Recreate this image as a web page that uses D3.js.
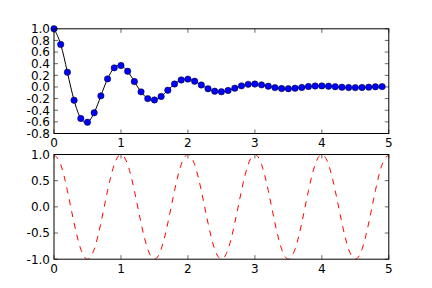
<!DOCTYPE html>
<html><head><meta charset="utf-8">
<script src="https://cdn.jsdelivr.net/npm/d3@7"></script>
<style>body{margin:0;background:#fff}svg{display:block}text{font-family:"DejaVu Sans";font-size:12px;fill:#000}</style>
</head><body><svg id="c" width="432" height="288"></svg>
<script>
// top series: sample times and damped oscillation values
const t1 = [0,0.1,0.2,0.3,0.4,0.5,0.6,0.7,0.8,0.9,1.0,1.1,1.2,1.3,1.4,1.5,1.6,1.7,1.8,1.9,2.0,2.1,2.2,2.3,2.4,2.5,2.6,2.7,2.8,2.9,3.0,3.1,3.2,3.3,3.4,3.5,3.6,3.7,3.8,3.9,4.0,4.1,4.2,4.3,4.4,4.5,4.6,4.7,4.8,4.9];
const f1 = [1.0,0.732,0.253,-0.229,-0.542,-0.607,-0.444,-0.153,0.139,0.329,0.368,0.269,0.093,-0.084,-0.200,-0.223,-0.163,-0.056,0.051,0.121,0.135,0.099,0.034,-0.031,-0.073,-0.082,-0.060,-0.021,0.019,0.045,0.050,0.036,0.013,-0.011,-0.027,-0.030,-0.022,-0.008,0.007,0.016,0.018,0.013,0.005,-0.004,-0.010,-0.011,-0.008,-0.003,0.003,0.006];
// bottom series: cosine curve samples
const t2 = [0,0.1,0.2,0.3,0.4,0.5,0.6,0.7,0.8,0.9,1.0,1.1,1.2,1.3,1.4,1.5,1.6,1.7,1.8,1.9,2.0,2.1,2.2,2.3,2.4,2.5,2.6,2.7,2.8,2.9,3.0,3.1,3.2,3.3,3.4,3.5,3.6,3.7,3.8,3.9,4.0,4.1,4.2,4.3,4.4,4.5,4.6,4.7,4.8,4.9,5.0];
const f2 = [1,0.809,0.309,-0.309,-0.809,-1,-0.809,-0.309,0.309,0.809,1,0.809,0.309,-0.309,-0.809,-1,-0.809,-0.309,0.309,0.809,1,0.809,0.309,-0.309,-0.809,-1,-0.809,-0.309,0.309,0.809,1,0.809,0.309,-0.309,-0.809,-1,-0.809,-0.309,0.309,0.809,1,0.809,0.309,-0.309,-0.809,-1,-0.809,-0.309,0.309,0.809,1];
const xTicks = [0,1,2,3,4,5];
const yTicksTop = [-0.8,-0.6,-0.4,-0.2,0.0,0.2,0.4,0.6,0.8,1.0];
const yTicksBottom = [-1.0,-0.5,0.0,0.5,1.0];

const svg = d3.select("#c");
const L = 54, R = 388.8;
const fmtX = d3.format("d");
const fmtY = v => (v < 0 ? "-" : "") + Math.abs(v).toFixed(1);

function panel(top, bottom, yDom, yTicks) {
  const x = d3.scaleLinear().domain([0,5]).range([L,R]);
  const y = d3.scaleLinear().domain(yDom).range([bottom,top]);
  const g = svg.append("g");
  // inward ticks, all four sides
  const tk = g.append("g").attr("stroke","#000").attr("stroke-width",0.6);
  xTicks.forEach(v=>{
    tk.append("line").attr("x1",x(v)).attr("x2",x(v)).attr("y1",bottom).attr("y2",bottom-4);
    tk.append("line").attr("x1",x(v)).attr("x2",x(v)).attr("y1",top).attr("y2",top+4);
    g.append("text").attr("x",x(v)).attr("y",bottom+4).attr("dy","0.78em").attr("text-anchor","middle").text(fmtX(v));
  });
  yTicks.forEach(v=>{
    tk.append("line").attr("x1",L).attr("x2",L+4).attr("y1",y(v)).attr("y2",y(v));
    tk.append("line").attr("x1",R).attr("x2",R-4).attr("y1",y(v)).attr("y2",y(v));
    g.append("text").attr("x",L-4).attr("y",y(v)).attr("dy","0.36em").attr("text-anchor","end").text(fmtY(v));
  });
  return {x,y,g,top,bottom};
}

const p1 = panel(28.8, 133.5, [-0.8,1.0], yTicksTop);
const p2 = panel(154.5, 259.2, [-1.0,1.0], yTicksBottom);

svg.append("clipPath").attr("id","cp1").append("rect").attr("x",L).attr("y",p1.top).attr("width",R-L).attr("height",p1.bottom-p1.top);
svg.append("clipPath").attr("id","cp2").append("rect").attr("x",L).attr("y",p2.top).attr("width",R-L).attr("height",p2.bottom-p2.top);

const d1 = t1.map((t,i)=>[t,f1[i]]);
const line1 = d3.line().x(d=>p1.x(d[0])).y(d=>p1.y(d[1])).curve(d3.curveNatural);
const gc1 = svg.append("g").attr("clip-path","url(#cp1)");
gc1.append("path").datum(d1).attr("d",line1).attr("fill","none").attr("stroke","#000").attr("stroke-width",1);
svg.append("g").selectAll("circle").data(d1).join("circle")
  .attr("cx",d=>p1.x(d[0])).attr("cy",d=>p1.y(d[1])).attr("r",3.2)
  .attr("fill","#0000ff").attr("stroke","#000").attr("stroke-width",0.5);

const d2 = t2.map((t,i)=>[t,f2[i]]);
const line2 = d3.line().x(d=>p2.x(d[0])).y(d=>p2.y(d[1])).curve(d3.curveNatural);
svg.append("g").attr("clip-path","url(#cp2)").append("path").datum(d2).attr("d",line2)
  .attr("fill","none").attr("stroke","#ff0000").attr("stroke-width",1).attr("stroke-dasharray","6,6");

// frames
[p1,p2].forEach(p=>{
  svg.append("rect").attr("x",L).attr("y",p.top).attr("width",R-L).attr("height",p.bottom-p.top)
    .attr("fill","none").attr("stroke","#000").attr("stroke-width",1);
});
</script></body></html>
